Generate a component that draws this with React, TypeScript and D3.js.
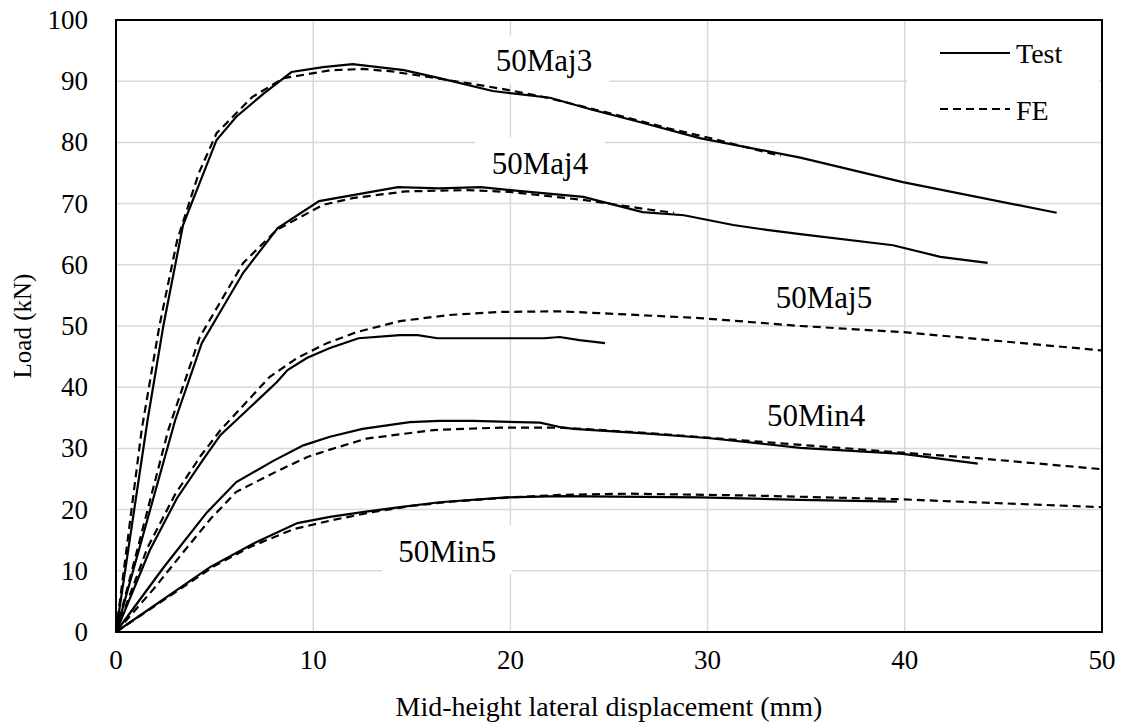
import React from "react";
import * as d3 from "d3";

type Pt = [number, number];

const xTicks = [0, 10, 20, 30, 40, 50];
const yTicks = [0, 10, 20, 30, 40, 50, 60, 70, 80, 90, 100];

const maj3Test: Pt[] = [[0,0],[1.6,34.6],[2.4,50],[3.4,66.5],[5.1,80.4],[6.1,84.2],[7.5,88],[8.9,91.5],[10.5,92.3],[12,92.8],[14.6,91.8],[16.4,90.5],[19.1,88.4],[22,87.3],[24.2,85.3],[26.6,83.3],[29.6,80.7],[34.7,77.5],[39.9,73.5],[47.7,68.5]];
const maj3FE: Pt[] = [[0,0],[1.3,33],[2.2,50],[3.1,64],[4.2,75],[5.1,81.5],[6.9,87.4],[8.5,90.5],[10.9,91.8],[12.5,92],[14,91.6],[16,90.6],[18,89.6],[20,88.5],[22,87.2],[25,84.8],[28,82.3],[30,80.8],[33.7,77.8]];
const maj4Test: Pt[] = [[0,0],[3,34.6],[4.35,47.2],[6.45,58.7],[8.2,66],[10.3,70.4],[14.3,72.7],[16.4,72.5],[18.5,72.7],[20,72.2],[23.7,71.1],[26.7,68.6],[28.8,68.1],[31.3,66.5],[33,65.7],[34.7,65],[39.4,63.2],[41.8,61.3],[44.2,60.3]];
const maj4FE: Pt[] = [[0,0],[2.65,33],[4.25,48.2],[6.45,60.3],[8.15,65.7],[10.5,69.8],[12,70.9],[14.7,72],[17.8,72.2],[20,71.9],[23.7,70.6],[27.1,69],[28.3,68.5]];
const maj5Test: Pt[] = [[0,0],[1.72,13.4],[3.1,21.9],[4.4,28.1],[5.3,32.2],[6.1,34.6],[8.15,40.8],[8.7,42.8],[9.7,44.8],[10.85,46.4],[12.3,48],[14.4,48.5],[15.3,48.5],[16.3,48],[21.7,48],[22.5,48.2],[23.5,47.7],[24.8,47.2]];
const maj5FE: Pt[] = [[0,0],[1.6,13.8],[3,22.5],[4.3,28.8],[5.3,33],[7.8,41.7],[9.2,44.8],[10.7,47.2],[12.2,49],[14.4,50.8],[16.9,51.8],[19.5,52.3],[22.5,52.4],[24.5,52.1],[29.6,51.3],[34.7,50],[39.9,49],[50,46]];
const min4Test: Pt[] = [[0,0],[2.4,10.5],[4.6,19.5],[6.1,24.5],[8,28],[9.5,30.5],[10.85,31.9],[12.5,33.2],[14.9,34.3],[16.4,34.5],[18.1,34.5],[21.5,34.2],[22.5,33.5],[23.2,33.2],[26.6,32.5],[30,31.7],[34.7,30.1],[39.9,29.1],[43.7,27.5]];
const min4FE: Pt[] = [[0,0],[1.9,7],[3.4,13],[4.8,18.5],[6.1,22.9],[8,26],[9.7,28.6],[10.85,29.8],[12.7,31.6],[16.1,33],[19.5,33.4],[22.5,33.4],[26.6,32.6],[32.2,31.2],[39.9,29.3],[43.7,28.4],[50,26.6]];
const min5Test: Pt[] = [[0,0],[4.77,10.6],[7,14.5],[9.2,17.8],[10.85,18.8],[12.5,19.6],[14.4,20.4],[16.4,21.2],[19.8,22],[22.5,22.2],[29.6,22],[34.7,21.6],[39.6,21.3]];
const min5FE: Pt[] = [[0,0],[3,6.5],[5,10.8],[6.8,13.9],[9,16.8],[11,18.3],[13,19.6],[15,20.6],[17,21.3],[20,22],[22.5,22.4],[26,22.6],[32.2,22.3],[39.6,21.7],[50,20.4]];

const testSeries: Pt[][] = [maj3Test, maj4Test, maj5Test, min4Test, min5Test];
const feSeries: Pt[][] = [maj3FE, maj4FE, maj5FE, min4FE, min5FE];

const labelNames = ["50Maj3", "50Maj4", "50Maj5", "50Min4", "50Min5"];
const labelX = [21.7, 21.5, 35.9, 35.5, 16.8];
const labelY = [93.4, 76.7, 54.8, 35.5, 13.3];

const FONT = "'Liberation Serif', 'Times New Roman', serif";

export default function App() {
  const W = 1127, H = 728;
  const L = 116, R = 1102, T = 20, B = 632;
  const x = d3.scaleLinear().domain([0, 50]).range([L, R]);
  const y = d3.scaleLinear().domain([0, 100]).range([B, T]);
  const line = d3.line<Pt>().x(d => x(d[0])).y(d => y(d[1]));
  const ts: React.CSSProperties = { fontFamily: FONT };

  return (
    <svg width={W} height={H} style={{ position: "absolute", left: 0, top: 0, background: "#fff" }}>
      <rect x={0} y={0} width={W} height={H} fill="#fff" />
      {yTicks.filter(t => t > 0 && t < 100).map(t => (
        <line key={"gy" + t} x1={L} x2={R} y1={y(t)} y2={y(t)} stroke="#d9d9d9" strokeWidth={1.5} />
      ))}
      {xTicks.filter(t => t > 0 && t < 50).map(t => (
        <line key={"gx" + t} x1={x(t)} x2={x(t)} y1={T} y2={B} stroke="#d9d9d9" strokeWidth={1.5} />
      ))}
      {labelNames.map((n, i) => (
        <rect key={"lb" + n} x={x(labelX[i]) - 65} y={y(labelY[i]) - 25} width={130} height={48} fill="#fff" />
      ))}
      <rect x={907} y={22} width={192} height={112} fill="#fff" />
      {feSeries.map((s, i) => (
        <path key={"fe" + i} d={line(s) || ""} fill="none" stroke="#000" strokeWidth={2.2} strokeDasharray="8,5" />
      ))}
      {testSeries.map((s, i) => (
        <path key={"t" + i} d={line(s) || ""} fill="none" stroke="#000" strokeWidth={2.2} />
      ))}
      <rect x={L} y={T} width={R - L} height={B - T} fill="none" stroke="#000" strokeWidth={2} />
      {labelNames.map((n, i) => (
        <text key={"lt" + n} x={x(labelX[i])} y={y(labelY[i]) + 11} textAnchor="middle" fontSize={31} fill="#000" style={ts}>{n}</text>
      ))}
      {xTicks.map(t => (
        <text key={"xt" + t} x={x(t)} y={669} textAnchor="middle" fontSize={27} fill="#000" style={ts}>{t}</text>
      ))}
      {yTicks.map(t => (
        <text key={"yt" + t} x={88} y={y(t) + 9} textAnchor="end" fontSize={27} fill="#000" style={ts}>{t}</text>
      ))}
      <text x={(L + R) / 2} y={716} textAnchor="middle" fontSize={28} fill="#000" style={ts}>Mid-height lateral displacement (mm)</text>
      <text transform={`translate(31,326) rotate(-90)`} textAnchor="middle" fontSize={25} fill="#000" style={ts}>Load (kN)</text>
      <line x1={940} x2={1010} y1={53} y2={53} stroke="#000" strokeWidth={2.2} />
      <text x={1016} y={63} fontSize={28} fill="#000" style={ts}>Test</text>
      <line x1={940} x2={1010} y1={109} y2={109} stroke="#000" strokeWidth={2.2} strokeDasharray="8,5" />
      <text x={1016} y={120} fontSize={28} fill="#000" style={ts}>FE</text>
    </svg>
  );
}
